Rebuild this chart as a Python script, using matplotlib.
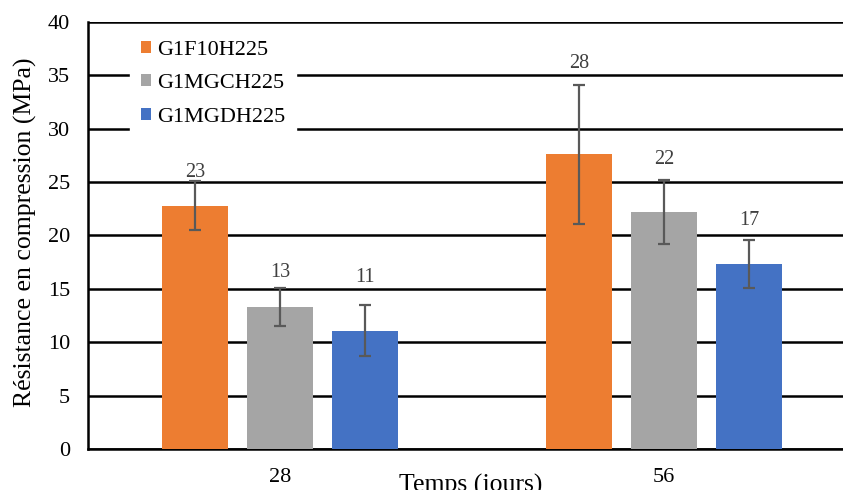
import matplotlib.pyplot as plt
import numpy as np

plt.rcParams['font.family'] = ['Liberation Serif', 'DejaVu Serif']

# ages (days)
categories = ['28', '56']
series = ['G1F10H225', 'G1MGCH225', 'G1MGDH225']
# mean compressive strength (MPa)
means = [[22.8, 27.6],
         [13.3, 22.2],
         [11.1, 17.3]]
# error bar half-length (MPa)
errors = [[2.3, 6.5],
          [1.8, 3.0],
          [2.4, 2.25]]
# label printed above each bar
labels = [['23', '28'],
          ['13', '22'],
          ['11', '17']]
# height (MPa) where each label sits, placed by hand like in the original
label_y = [[25.9, 36.1],
           [16.5, 27.1],
           [16.1, 21.4]]
colors = ['#ED7D31', '#A5A5A5', '#4472C4']

fig = plt.figure(figsize=(8.43, 4.9), dpi=100)
ax = fig.add_axes([88 / 843, 1 - 449 / 490, 1 - 88 / 843, (449 - 22) / 490])

x = np.arange(len(categories))
width = 0.172
step = 0.222
for i, name in enumerate(series):
    pos = x + (i - 1) * step
    ax.bar(pos, means[i], width, color=colors[i], label=name, zorder=3)
    ax.errorbar(pos, means[i], yerr=errors[i], fmt='none', ecolor='#595959',
                elinewidth=1.6, capsize=4, capthick=1.6, zorder=4)
    for p, ly, lab in zip(pos, label_y[i], labels[i]):
        ax.text(p, ly, lab, ha='center', va='center', fontsize=14.5,
                color='#404040', zorder=5)

ax.set_xlim(-0.5, 1.466)
ax.set_ylim(0, 40)
ax.set_yticks(range(0, 41, 5))
ax.set_xticks(x)
ax.set_xticklabels(categories)
ax.grid(axis='y', color='black', linewidth=1.8, zorder=0)
ax.tick_params(length=0, labelsize=16, colors='black')
ax.tick_params(axis='x', pad=14)
ax.tick_params(axis='y', pad=13)
for s in ['top', 'right']:
    ax.spines[s].set_visible(False)
ax.spines['left'].set_linewidth(1.8)
ax.spines['bottom'].set_linewidth(1.8)

ax.set_ylabel('Résistance en compression (MPa)', fontsize=18.5)
ax.yaxis.set_label_coords(-0.067, 0.508)
ax.set_xlabel('Temps (jours)', fontsize=18.5)
ax.xaxis.set_label_coords(0.507, -0.058)

leg = ax.legend(loc='upper left', bbox_to_anchor=(0.047, 0.998), frameon=True,
                fontsize=16, handlelength=0.45, handleheight=0.45,
                handletextpad=0.25, labelspacing=0.65, borderpad=0.3)
leg.get_frame().set_edgecolor('white')
leg.get_frame().set_facecolor('white')
leg.get_frame().set_alpha(1)
leg.get_frame().set_boxstyle('square', pad=0.2)

fig.savefig('out.png', dpi=100)
